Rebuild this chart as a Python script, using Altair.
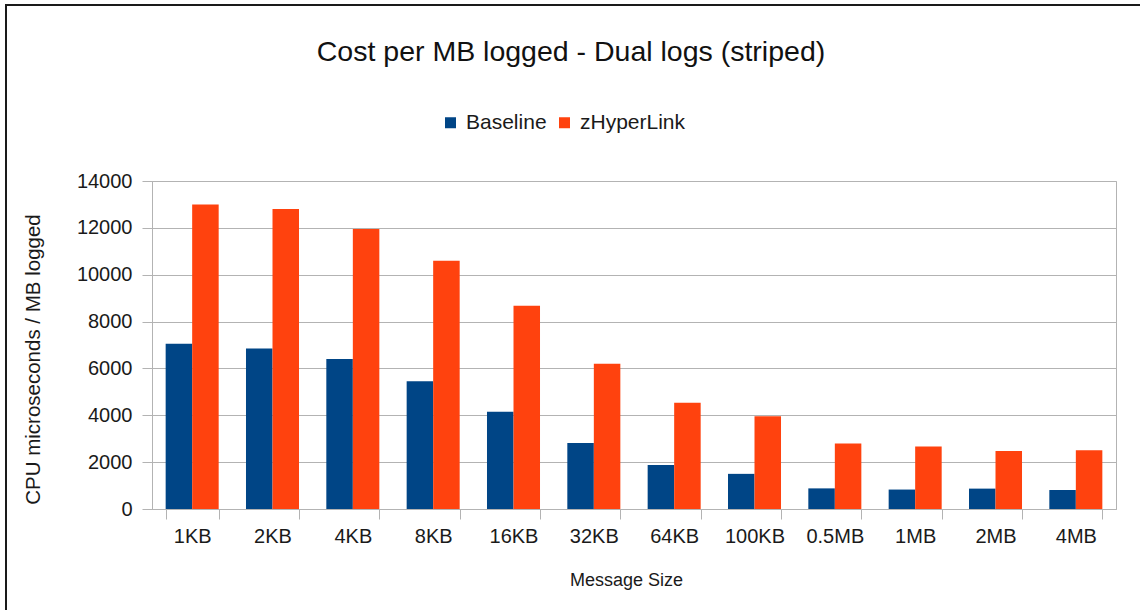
import altair as alt
import pandas as pd

categories = ["1KB", "2KB", "4KB", "8KB", "16KB", "32KB", "64KB", "100KB", "0.5MB", "1MB", "2MB", "4MB"]
baseline = [7050, 6850, 6400, 5450, 4150, 2820, 1880, 1500, 880, 830, 870, 810]
zhyperlink = [13000, 12800, 11950, 10600, 8680, 6200, 4530, 3960, 2800, 2670, 2480, 2510]
series = ["Baseline", "zHyperLink"]
colors = ["#004586", "#ff420e"]

rows = []
for c, b, z in zip(categories, baseline, zhyperlink):
    rows.append({"size": c, "series": "Baseline", "value": b})
    rows.append({"size": c, "series": "zHyperLink", "value": z})
df = pd.DataFrame(rows)

FONT = "Liberation Sans"
GRID = "#b3b3b3"
W, H = 964, 328
LEFT, TOP = 152, 181

bars = alt.Chart(df).mark_bar().encode(
    x=alt.X(
        "size:N",
        sort=categories,
        scale=alt.Scale(paddingInner=0.34, paddingOuter=0.17),
        axis=alt.Axis(
            title="Message Size",
            titleFontSize=18,
            titleFontWeight="normal",
            titleFont=FONT,
            titleColor="#1a1a1a",
            titleY=71,
            titleBaseline="middle",
            titleX=474,
            labelFontSize=20,
            labelFont=FONT,
            labelColor="#1a1a1a",
            labelAngle=0,
            labelPadding=7,
            tickBand="extent",
            tickSize=10,
            tickColor=GRID,
            domainColor=GRID,
            grid=False,
        ),
    ),
    xOffset=alt.XOffset("series:N", sort=series, scale=alt.Scale(paddingInner=0, paddingOuter=0)),
    y=alt.Y(
        "value:Q",
        scale=alt.Scale(domain=[0, 14000], nice=False),
        axis=alt.Axis(
            title="CPU microseconds / MB logged",
            titleFontSize=20.5,
            titleFontWeight="normal",
            titleFont=FONT,
            titleColor="#1a1a1a",
            titleX=-119,
            titleY=178,
            titleBaseline="middle",
            titleAlign="center",
            labelFontSize=20,
            labelFont=FONT,
            labelColor="#1a1a1a",
            labelPadding=10,
            values=[0, 2000, 4000, 6000, 8000, 10000, 12000, 14000],
            format="d",
            tickSize=10,
            tickColor=GRID,
            domainColor=GRID,
            gridColor=GRID,
            gridWidth=1,
        ),
    ),
    color=alt.Color(
        "series:N",
        sort=series,
        scale=alt.Scale(domain=series, range=colors),
        legend=alt.Legend(
            title=None,
            orient="none",
            legendX=288,
            legendY=-69,
            direction="horizontal",
            symbolType="square",
            symbolSize=121,
            symbolStrokeWidth=0,
            labelFontSize=21,
            labelFont=FONT,
            labelColor="#1a1a1a",
            labelOffset=5,
            columnPadding=7,
        ),
    ),
)

# frame lines of the original screenshot (left and top edges)
border_left = alt.Chart(df).mark_rule(color="#1a1a1a", strokeWidth=2).encode(
    x=alt.value(6 - LEFT), y=alt.value(4 - TOP), y2=alt.value(610 - TOP)
)
border_top = alt.Chart(df).mark_rule(color="#1a1a1a", strokeWidth=2).encode(
    x=alt.value(6 - LEFT), x2=alt.value(1140 - LEFT), y=alt.value(5 - TOP)
)

chart = alt.layer(bars, border_left, border_top).properties(
    width=W,
    height=H,
    autosize=alt.AutoSizeParams(type="none"),
    padding={"left": LEFT, "top": TOP, "right": 1140 - LEFT - W, "bottom": 610 - TOP - H},
    title=alt.TitleParams(
        "Cost per MB logged - Dual logs (striped)",
        font=FONT,
        fontSize=28.5,
        fontWeight="normal",
        color="#111111",
        anchor="middle",
        dx=-63,
        offset=-63,
    ),
    background="white",
).configure_view(stroke=GRID, strokeWidth=1)

chart.save("out.html", embed_options={"renderer": "svg", "actions": False})
